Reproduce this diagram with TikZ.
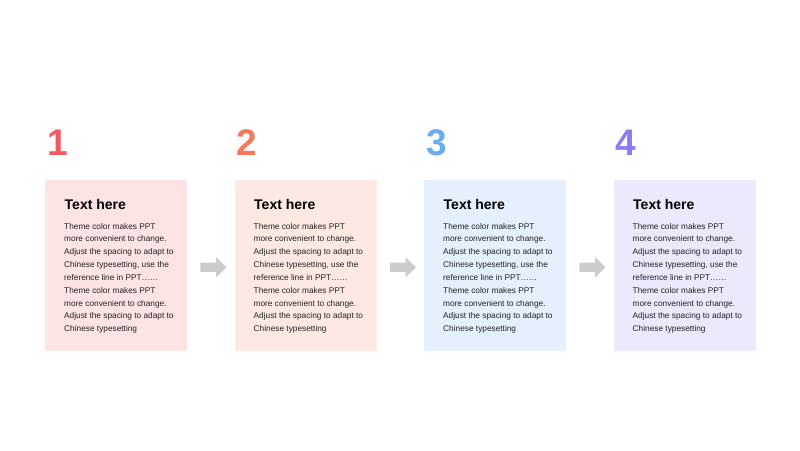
\documentclass[tikz,border=0pt]{standalone}
\usepackage{fontspec}
\setmainfont{Liberation Sans}
\usetikzlibrary{positioning,shapes.arrows}
\definecolor{numred}{RGB}{240,90,100}
\definecolor{numorange}{RGB}{245,121,90}
\definecolor{numblue}{RGB}{106,172,240}
\definecolor{numpurple}{RGB}{139,124,240}
\definecolor{cardred}{RGB}{253,227,227}
\definecolor{cardorange}{RGB}{253,233,226}
\definecolor{cardblue}{RGB}{228,240,252}
\definecolor{cardpurple}{RGB}{236,233,252}
\definecolor{arrowgray}{RGB}{204,204,204}
\definecolor{bodytext}{RGB}{34,34,34}

\begin{document}
\begin{tikzpicture}[x=1pt, y=-1pt,
  card/.style={minimum width=142pt, minimum height=171pt, inner sep=0pt, draw=none},
  stepnum/.style={font=\fontsize{37}{37}\selectfont\bfseries, inner sep=0pt, anchor=base},
  cardtitle/.style={font=\fontsize{14}{16}\selectfont\bfseries, text=black, inner sep=0pt, anchor=base west},
  cardbody/.style={font=\fontsize{8.3}{12.85}\selectfont, text=bodytext, align=left, inner sep=0pt, anchor=north west},
  flowarrow/.style={single arrow, fill=arrowgray, draw=none, minimum height=26pt,
    inner xsep=0pt, inner ysep=4.5pt, single arrow head extend=5.5pt, single arrow tip angle=90}]
\useasboundingbox (0,0) rectangle (800,450);
% Four numbered cards
\foreach \i/\x/\cardc/\numc in {1/45/cardred/numred, 2/234.5/cardorange/numorange,
                                3/424/cardblue/numblue, 4/613.5/cardpurple/numpurple} {
  \node[card, fill=\cardc, anchor=north west] (box\i) at (\x,180) {};
  \node[stepnum, text=\numc] (num\i) at (\x+12.5,155) {\i};
  \node[cardtitle] (title\i) at (\x+19.5,209) {Text here};
  \node[cardbody] (body\i) at (\x+19,222.8) {Theme color makes PPT\\
    more convenient to change.\\
    Adjust the spacing to adapt to\\
    Chinese typesetting, use the\\
    reference line in PPT\dots\dots\\
    Theme color makes PPT\\
    more convenient to change.\\
    Adjust the spacing to adapt to\\
    Chinese typesetting};
}
% Arrows between cards
\foreach \a/\b in {1/2, 2/3, 3/4}
  \path (box\a.east) -- (box\b.west) node[flowarrow, midway, yshift=-1.5pt] (arrow\a) {};
\end{tikzpicture}
\end{document}
